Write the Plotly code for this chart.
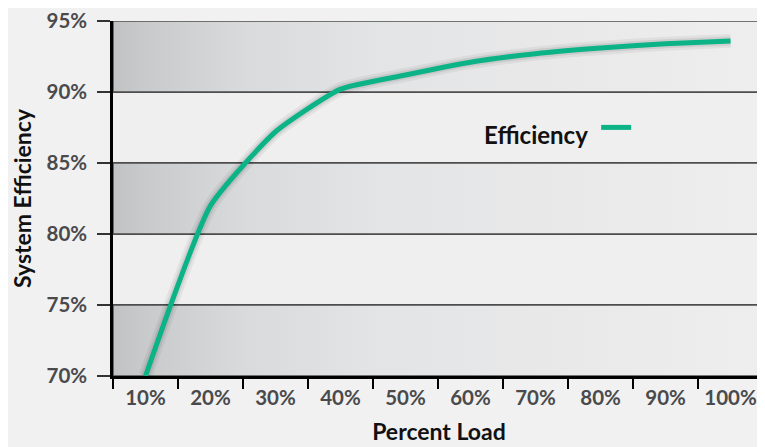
import plotly.graph_objects as go

# ---- data ----
load_pct = [10, 20, 30, 40, 50, 60, 70, 80, 90, 100]
efficiency = [70.0, 82.0, 87.2, 90.2, 91.2, 92.1, 92.7, 93.1, 93.4, 93.6]
x_labels = [f"{v}%" for v in load_pct]
x_bound_ticks = [v - 5 for v in load_pct]
y_ticks = [70, 75, 80, 85, 90, 95]
y_labels = [f"{v}%" for v in y_ticks]
shaded_bands = [(70, 75), (80, 85), (90, 95)]
series_name = "Efficiency"

X_MIN, X_MAX = 5, 105.3
FONT = "Lato"
GREEN = "#0bb386"
GRID = "#4d4d4d"
TITLE_FONT = dict(family=FONT, size=23, color="#111111", weight="bold")

fig = go.Figure()

# gradient bands
for lo, hi in shaded_bands:
    fig.add_trace(go.Scatter(
        x=[X_MIN, X_MAX, X_MAX, X_MIN, X_MIN],
        y=[lo, lo, hi, hi, lo],
        mode="lines", fill="toself",
        fillgradient=dict(type="horizontal",
                          colorscale=[[0, "#c1c2c4"], [0.05, "#c9cacc"], [0.2, "#d9dadc"],
                                      [0.4, "#e3e4e5"], [0.7, "#e9e9ea"], [1, "#eeeeee"]]),
        line=dict(width=1.5, color=GRID),
        hoverinfo="skip", showlegend=False))

# soft shadow under the line
for w, a in [(14, 0.05), (9, 0.08)]:
    fig.add_trace(go.Scatter(
        x=load_pct, y=efficiency, mode="lines",
        line=dict(color=f"rgba(0,0,0,{a})", width=w, shape="spline", smoothing=0.5),
        hoverinfo="skip", showlegend=False))

fig.add_trace(go.Scatter(
    x=load_pct, y=efficiency, mode="lines", name=" ",
    line=dict(color=GREEN, width=5, shape="spline", smoothing=0.5),
    showlegend=True))

fig.update_layout(
    width=757, height=440,
    margin=dict(l=105, r=0, t=13, b=72, autoexpand=False),
    paper_bgcolor="#f1f1f1", plot_bgcolor="#efefef",
    font=dict(family=FONT, size=20.5, color="#4a4a4c", weight="bold"),
    showlegend=True,
    legend=dict(x=0.566, y=0.682, xanchor="left", yanchor="middle",
                bgcolor="rgba(0,0,0,0)",
                title=dict(text=series_name, side="left",
                           font=dict(family=FONT, size=24, color="#111111", weight="bold")),
                font=dict(size=6)),
    xaxis=dict(
        range=[X_MIN, X_MAX], tickmode="array", tickvals=load_pct, ticktext=x_labels,
        ticks="", showline=True, linecolor="black", linewidth=2.5,
        showgrid=False, zeroline=False, ticklabelstandoff=2, automargin=False,
        ticklabeloverflow="allow",
        minor=dict(tickmode="array", tickvals=x_bound_ticks, ticks="outside",
                   ticklen=10, tickwidth=2, tickcolor="black", showgrid=False),
        title=dict(text="Percent Load", standoff=16, font=TITLE_FONT),
    ),
    yaxis=dict(
        range=[70, 95], tickmode="array", tickvals=y_ticks, ticktext=y_labels,
        ticks="outside", ticklen=13, tickwidth=1.5, tickcolor="#333333",
        showline=True, linecolor="black", linewidth=2.5,
        showgrid=True, gridcolor=GRID, gridwidth=1.5, zeroline=False,
        ticklabelstandoff=6, automargin=False, ticklabeloverflow="allow",
        title=dict(text="System Efficiency", standoff=36, font=TITLE_FONT),
    ),
)

fig.write_html("out.html")
